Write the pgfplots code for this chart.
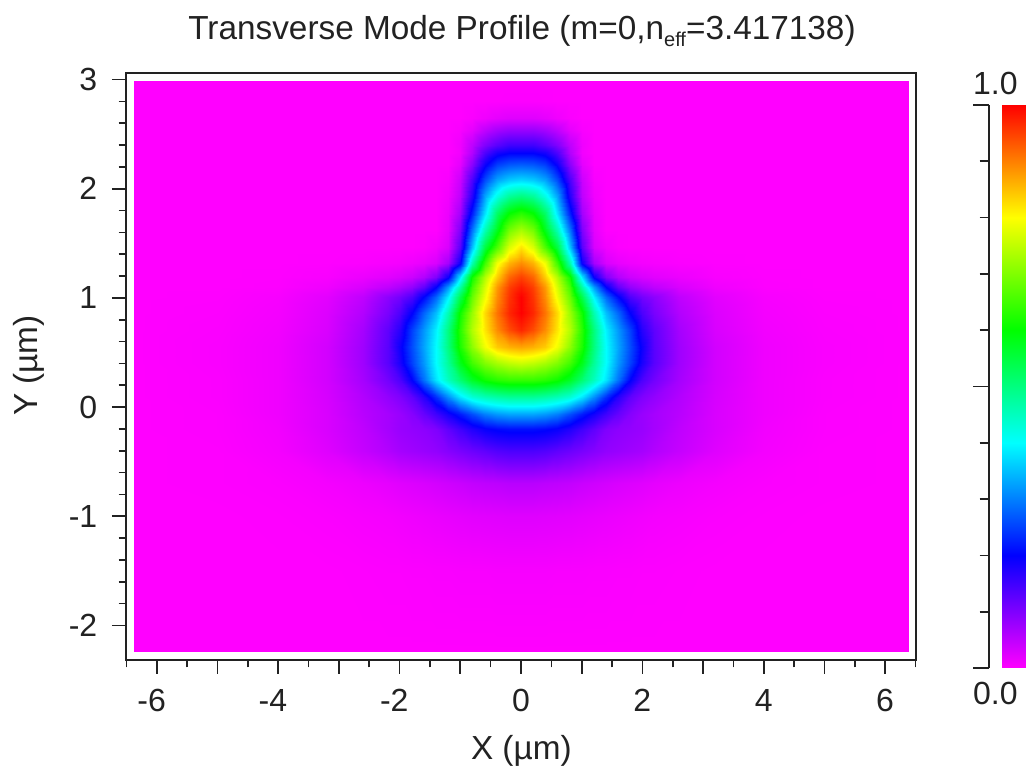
\documentclass[border=0pt]{standalone}
\usepackage{pgfplots}
\usepackage{pgfplotstable}
\usepackage{fontspec}
\setmainfont{Liberation Sans}
\pgfplotsset{compat=1.18}
\definecolor{ink}{HTML}{222222}
\pgfplotsset{colormap={fimm}{rgb255(0)=(255,0,255) rgb255(2)=(0,0,255) rgb255(4)=(0,255,255) rgb255(6)=(0,255,0) rgb255(8)=(255,255,0) rgb255(10)=(255,0,0)}}
\pgfplotstableread{
x y z
0 2.985 0
0.2 2.985 0
0.4 2.985 0
0.6 2.985 0
0.8 2.985 0
1 2.985 0
1.2 2.985 0
1.4 2.985 0
1.6 2.985 0
1.8 2.985 0
2 2.985 0
2.2 2.985 0
2.6 2.985 0
3.2 2.985 0
4 2.985 0
5 2.985 0
6.38 2.985 0
0 2.8 .002
0.2 2.8 .002
0.4 2.8 .001
0.6 2.8 0
0.8 2.8 0
1 2.8 0
1.2 2.8 0
1.4 2.8 0
1.6 2.8 0
1.8 2.8 0
2 2.8 0
2.2 2.8 0
2.6 2.8 0
3.2 2.8 0
4 2.8 0
5 2.8 0
6.38 2.8 0
0 2.65 .025
0.2 2.65 .025
0.4 2.65 .02
0.6 2.65 .012
0.8 2.65 .004
1 2.65 0
1.2 2.65 0
1.4 2.65 0
1.6 2.65 0
1.8 2.65 0
2 2.65 0
2.2 2.65 0
2.6 2.65 0
3.2 2.65 0
4 2.65 0
5 2.65 0
6.38 2.65 0
0 2.54 .08
0.2 2.54 .08
0.4 2.54 .07
0.6 2.54 .05
0.8 2.54 .02
1 2.54 .005
1.2 2.54 0
1.4 2.54 0
1.6 2.54 0
1.8 2.54 0
2 2.54 0
2.2 2.54 0
2.6 2.54 0
3.2 2.54 0
4 2.54 0
5 2.54 0
6.38 2.54 0
0 2.4 .15
0.2 2.4 .15
0.4 2.4 .13
0.6 2.4 .10
0.8 2.4 .05
1 2.4 .012
1.2 2.4 0
1.4 2.4 0
1.6 2.4 0
1.8 2.4 0
2 2.4 0
2.2 2.4 0
2.6 2.4 0
3.2 2.4 0
4 2.4 0
5 2.4 0
6.38 2.4 0
0 2.33 .20
0.2 2.33 .20
0.4 2.33 .185
0.6 2.33 .14
0.8 2.33 .06
1 2.33 .01
1.2 2.33 0
1.4 2.33 0
1.6 2.33 0
1.8 2.33 0
2 2.33 0
2.2 2.33 0
2.6 2.33 0
3.2 2.33 0
4 2.33 0
5 2.33 0
6.38 2.33 0
0 2.23 .27
0.2 2.23 .265
0.4 2.23 .245
0.6 2.23 .19
0.8 2.23 .09
1 2.23 .02
1.2 2.23 0
1.4 2.23 0
1.6 2.23 0
1.8 2.23 0
2 2.23 0
2.2 2.23 0
2.6 2.23 0
3.2 2.23 0
4 2.23 0
5 2.23 0
6.38 2.23 0
0 2.08 .37
0.2 2.08 .36
0.4 2.08 .33
0.6 2.08 .26
0.8 2.08 .14
1 2.08 .04
1.2 2.08 .005
1.4 2.08 0
1.6 2.08 0
1.8 2.08 0
2 2.08 0
2.2 2.08 0
2.6 2.08 0
3.2 2.08 0
4 2.08 0
5 2.08 0
6.38 2.08 0
0 1.93 .50
0.2 1.93 .48
0.4 1.93 .42
0.6 1.93 .33
0.8 1.93 .17
1 1.93 .05
1.2 1.93 .01
1.4 1.93 0
1.6 1.93 0
1.8 1.93 0
2 1.93 0
2.2 1.93 0
2.6 1.93 0
3.2 1.93 0
4 1.93 0
5 1.93 0
6.38 1.93 0
0 1.78 .63
0.2 1.78 .60
0.4 1.78 .52
0.6 1.78 .38
0.8 1.78 .22
1 1.78 .07
1.2 1.78 .015
1.4 1.78 0
1.6 1.78 0
1.8 1.78 0
2 1.78 0
2.2 1.78 0
2.6 1.78 0
3.2 1.78 0
4 1.78 0
5 1.78 0
6.38 1.78 0
0 1.62 .73
0.2 1.62 .69
0.4 1.62 .58
0.6 1.62 .46
0.8 1.62 .29
1 1.62 .10
1.2 1.62 .02
1.4 1.62 0
1.6 1.62 0
1.8 1.62 0
2 1.62 0
2.2 1.62 0
2.6 1.62 0
3.2 1.62 0
4 1.62 0
5 1.62 0
6.38 1.62 0
0 1.47 .82
0.2 1.47 .77
0.4 1.47 .66
0.6 1.47 .55
0.8 1.47 .35
1 1.47 .13
1.2 1.47 .03
1.4 1.47 .01
1.6 1.47 .002
1.8 1.47 0
2 1.47 0
2.2 1.47 0
2.6 1.47 0
3.2 1.47 0
4 1.47 0
5 1.47 0
6.38 1.47 0
0 1.32 .89
0.2 1.32 .86
0.4 1.32 .79
0.6 1.32 .65
0.8 1.32 .46
1 1.32 .19
1.2 1.32 .07
1.4 1.32 .03
1.6 1.32 .018
1.8 1.32 .012
2 1.32 .008
2.2 1.32 .006
2.6 1.32 .003
3.2 1.32 .001
4 1.32 0
5 1.32 0
6.38 1.32 0
0 1.19 .95
0.2 1.19 .92
0.4 1.19 .84
0.6 1.19 .74
0.8 1.19 .61
1 1.19 .38
1.2 1.19 .19
1.4 1.19 .10
1.6 1.19 .06
1.8 1.19 .04
2 1.19 .03
2.2 1.19 .023
2.6 1.19 .015
3.2 1.19 .005
4 1.19 .001
5 1.19 0
6.38 1.19 0
0 1.10 .98
0.2 1.10 .95
0.4 1.10 .88
0.6 1.10 .77
0.8 1.10 .65
1 1.10 .47
1.2 1.10 .32
1.4 1.10 .20
1.6 1.10 .125
1.8 1.10 .085
2 1.10 .065
2.2 1.10 .05
2.6 1.10 .03
3.2 1.10 .012
4 1.10 .002
5 1.10 0
6.38 1.10 0
0 1.01 1.0
0.2 1.01 .96
0.4 1.01 .89
0.6 1.01 .79
0.8 1.01 .68
1 1.01 .54
1.2 1.01 .39
1.4 1.01 .28
1.6 1.01 .205
1.8 1.01 .14
2 1.01 .11
2.2 1.01 .09
2.6 1.01 .05
3.2 1.01 .022
4 1.01 .006
5 1.01 .001
6.38 1.01 0
0 .86 1.0
0.2 .86 .97
0.4 .86 .91
0.6 .86 .83
0.8 .86 .72
1 .86 .61
1.2 .86 .46
1.4 .86 .35
1.6 .86 .28
1.8 .86 .20
2 .86 .14
2.2 .86 .105
2.6 .86 .06
3.2 .86 .027
4 .86 .008
5 .86 .002
6.38 .86 0
0 .71 .97
0.2 .71 .94
0.4 .71 .89
0.6 .71 .82
0.8 .71 .74
1 .71 .63
1.2 .71 .50
1.4 .71 .39
1.6 .71 .32
1.8 .71 .25
2 .71 .17
2.2 .71 .125
2.6 .71 .07
3.2 .71 .03
4 .71 .01
5 .71 .003
6.38 .71 0
0 .55 .87
0.2 .55 .86
0.4 .55 .84
0.6 .55 .79
0.8 .55 .71
1 .55 .62
1.2 .55 .50
1.4 .55 .40
1.6 .55 .33
1.8 .55 .26
2 .55 .19
2.2 .55 .13
2.6 .55 .075
3.2 .55 .035
4 .55 .012
5 .55 .004
6.38 .55 0
0 .40 .76
0.2 .40 .75
0.4 .40 .73
0.6 .40 .70
0.8 .40 .65
1 .40 .58
1.2 .40 .48
1.4 .40 .40
1.6 .40 .32
1.8 .40 .25
2 .40 .18
2.2 .40 .13
2.6 .40 .075
3.2 .40 .035
4 .40 .012
5 .40 .004
6.38 .40 0
0 .25 .64
0.2 .25 .64
0.4 .25 .63
0.6 .25 .61
0.8 .25 .57
1 .25 .51
1.2 .25 .45
1.4 .25 .38
1.6 .25 .29
1.8 .25 .20
2 .25 .14
2.2 .25 .11
2.6 .25 .07
3.2 .25 .035
4 .25 .012
5 .25 .003
6.38 .25 0
0 .09 .48
0.2 .09 .48
0.4 .09 .47
0.6 .09 .455
0.8 .09 .43
1 .09 .38
1.2 .09 .31
1.4 .09 .235
1.6 .09 .17
1.8 .09 .125
2 .09 .10
2.2 .09 .085
2.6 .09 .06
3.2 .09 .032
4 .09 .012
5 .09 .003
6.38 .09 0
0 -.06 .33
0.2 -.06 .33
0.4 -.06 .32
0.6 -.06 .30
0.8 -.06 .26
1 -.06 .22
1.2 -.06 .185
1.4 -.06 .15
1.6 -.06 .12
1.8 -.06 .095
2 -.06 .08
2.2 -.06 .07
2.6 -.06 .055
3.2 -.06 .03
4 -.06 .012
5 -.06 .002
6.38 -.06 0
0 -.2 .21
0.2 -.2 .21
0.4 -.2 .205
0.6 -.2 .195
0.8 -.2 .175
1 -.2 .15
1.2 -.2 .125
1.4 -.2 .10
1.6 -.2 .09
1.8 -.2 .085
2 -.2 .08
2.2 -.2 .07
2.6 -.2 .05
3.2 -.2 .03
4 -.2 .01
5 -.2 .002
6.38 -.2 0
0 -.4 .14
0.2 -.4 .14
0.4 -.4 .135
0.6 -.4 .125
0.8 -.4 .115
1 -.4 .105
1.2 -.4 .095
1.4 -.4 .085
1.6 -.4 .08
1.8 -.4 .075
2 -.4 .07
2.2 -.4 .06
2.6 -.4 .045
3.2 -.4 .025
4 -.4 .008
5 -.4 .001
6.38 -.4 0
0 -.7 .055
0.2 -.7 .055
0.4 -.7 .052
0.6 -.7 .05
0.8 -.7 .047
1 -.7 .042
1.2 -.7 .038
1.4 -.7 .034
1.6 -.7 .03
1.8 -.7 .027
2 -.7 .024
2.2 -.7 .02
2.6 -.7 .014
3.2 -.7 .008
4 -.7 .003
5 -.7 .001
6.38 -.7 0
0 -1 .025
0.2 -1 .025
0.4 -1 .024
0.6 -1 .023
0.8 -1 .022
1 -1 .02
1.2 -1 .018
1.4 -1 .016
1.6 -1 .014
1.8 -1 .012
2 -1 .01
2.2 -1 .008
2.6 -1 .006
3.2 -1 .003
4 -1 .001
5 -1 0
6.38 -1 0
0 -1.5 .006
0.2 -1.5 .006
0.4 -1.5 .006
0.6 -1.5 .005
0.8 -1.5 .005
1 -1.5 .005
1.2 -1.5 .004
1.4 -1.5 .004
1.6 -1.5 .003
1.8 -1.5 .003
2 -1.5 .002
2.2 -1.5 .002
2.6 -1.5 .001
3.2 -1.5 0
4 -1.5 0
5 -1.5 0
6.38 -1.5 0
0 -2.24 0
0.2 -2.24 0
0.4 -2.24 0
0.6 -2.24 0
0.8 -2.24 0
1 -2.24 0
1.2 -2.24 0
1.4 -2.24 0
1.6 -2.24 0
1.8 -2.24 0
2 -2.24 0
2.2 -2.24 0
2.6 -2.24 0
3.2 -2.24 0
4 -2.24 0
5 -2.24 0
6.38 -2.24 0
}\fieldtable
\pgfplotstableread{
x y z
1002 0 0
1026 0 0
1002 1 1
1026 1 1
}\bartable
\begin{document}
\begin{tikzpicture}
\useasboundingbox (0,0) rectangle (769.5pt,581.25pt);
\begin{axis}[
  at={(94.5pt,86.25pt)}, anchor=south west, scale only axis,
  width=592.5pt, height=440.25pt,
  xmin=-6.51, xmax=6.51, ymin=-2.317, ymax=3.06,
  colormap name=fimm, point meta min=0, point meta max=1,
  xtick={-6,-5,...,6},
  xticklabels={\llap{-}6,,\llap{-}4,,\llap{-}2,,0,,2,,4,,6},
  minor xtick={-6.5,-5.5,-4.5,-3.5,-2.5,-1.5,-0.5,0.5,1.5,2.5,3.5,4.5,5.5,6.5},
  ytick={-2,-1,0,1,2,3},
  yticklabels={-2,-1,0,1,2,3},
  minor y tick num=4,
  xtick pos=bottom, ytick pos=left, tick align=outside,
  major tick length=10.5pt, minor tick length=5.5pt,
  tick style={ink, line width=1.25pt},
  axis line style={ink, line width=1.5pt},
  ticklabel style={ink, font=\fontsize{24}{28}\selectfont},
  xticklabel style={yshift=-8pt},
  yticklabel style={xshift=-7.5pt},
  axis on top,
]
\addplot[surf, shader=interp, mesh/rows=29, mesh/cols=17, point meta=\thisrow{z}] table[x=x, y=y] {\fieldtable};
\addplot[surf, shader=interp, mesh/rows=29, mesh/cols=17, point meta=\thisrow{z}] table[x expr=-\thisrow{x}, y=y] {\fieldtable};
\end{axis}
\begin{axis}[
  at={(741.75pt,80.25pt)}, anchor=south west, scale only axis,
  width=27.75pt, height=422.25pt,
  xmin=989, xmax=1026, ymin=0, ymax=1,
  colormap name=fimm, point meta min=0, point meta max=1,
  axis x line=none, axis y line=left,
  axis line style={ink, line width=1.5pt, -},
  ytick={0,0.5,1}, yticklabels={,,},
  minor ytick={0.1,0.2,0.3,0.4,0.6,0.7,0.8,0.9},
  tick align=outside,
  major tick length=12pt, minor tick length=7pt,
  tick style={ink, line width=1.25pt},
]
\addplot[surf, shader=interp, mesh/rows=2, mesh/cols=2, point meta=\thisrow{z}] table[x=x, y=y] {\bartable};
\end{axis}
\node[ink, font=\fontsize{25}{29}\selectfont] at (391.5pt,558pt) {Transverse Mode Profile (m=0,n\raisebox{-0.45ex}{\fontsize{15}{17}\selectfont eff}=3.417138)};
\node[ink, font=\fontsize{25}{29}\selectfont] at (391pt,18pt) {X (µm)};
\node[ink, font=\fontsize{25}{29}\selectfont, rotate=90] at (22pt,307pt) {Y (µm)};
\node[ink, font=\fontsize{24}{28}\selectfont] at (746.5pt,518.5pt) {1.0};
\node[ink, font=\fontsize{24}{28}\selectfont] at (746.5pt,61.5pt) {0.0};
\end{tikzpicture}
\end{document}
